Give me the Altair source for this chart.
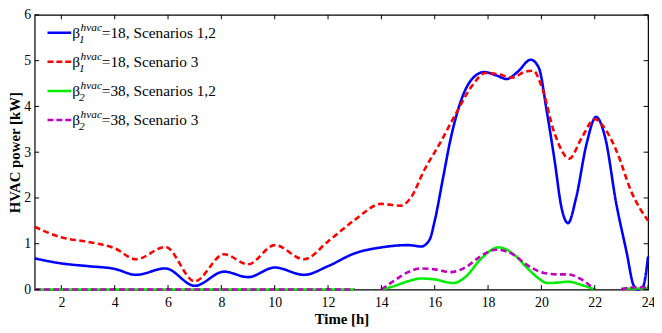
import altair as alt
import pandas as pd

# ---------------- data ----------------
blue_h = [1, 2, 3, 4, 4.8, 5.9, 7, 8.1, 9, 10, 11.1, 12, 13, 14, 15, 15.5, 15.8, 16, 16.3, 16.6,
          17, 17.4, 17.85, 18.3, 18.7, 19.1, 19.6, 19.9, 20.2, 20.5, 20.75, 21, 21.3, 21.7, 22.05,
          22.4, 22.8, 23.2, 23.45, 23.6, 23.8, 24]
blue_v = [0.68, 0.57, 0.51, 0.45, 0.32, 0.46, 0.08, 0.39, 0.27, 0.48, 0.32, 0.51, 0.79, 0.92, 0.97,
          0.94, 1.08, 1.5, 2.4, 3.3, 4.15, 4.6, 4.75, 4.68, 4.6, 4.75, 5.02, 4.85, 3.9, 2.8, 1.8,
          1.45, 2.0, 3.2, 3.77, 3.3, 1.9, 0.8, 0.1, 0.0, 0.05, 0.72]

red_h = [1, 2, 3, 4, 4.8, 5.9, 7, 8.1, 9, 10, 11.1, 12, 13, 14, 14.7, 15.1, 15.6, 16.2, 16.8, 17.4,
         17.9, 18.4, 18.9, 19.4, 19.7, 20.0, 20.5, 21.05, 21.5, 22.0, 22.4, 22.8, 23.4, 24]
red_v = [1.37, 1.14, 1.04, 0.9, 0.66, 0.93, 0.18, 0.77, 0.55, 0.97, 0.66, 1.05, 1.52, 1.87, 1.83,
         2.0, 2.6, 3.2, 3.85, 4.45, 4.73, 4.7, 4.63, 4.76, 4.78, 4.45, 3.4, 2.86, 3.3, 3.72, 3.5,
         3.05, 2.1, 1.5]

green_h1 = [1, 13]
green_v1 = [0, 0]
green_h2 = [14, 14.5, 15, 15.5, 16, 16.7, 17.2, 17.7, 18.4, 19, 19.5, 20, 20.2, 20.6, 21, 21.5, 22]
green_v2 = [0, 0.08, 0.18, 0.24, 0.22, 0.14, 0.3, 0.65, 0.92, 0.75, 0.45, 0.2, 0.14, 0.15, 0.17, 0.1, 0]
green_h3 = [23, 24]
green_v3 = [0.02, 0.02]

purple_h1 = [1, 13]
purple_v1 = [0, 0]
purple_h2 = [14, 14.5, 15, 15.5, 16, 16.6, 17.2, 17.7, 18.3, 18.9, 19.5, 20.1, 20.6, 21, 21.5, 22]
purple_v2 = [0, 0.2, 0.38, 0.46, 0.44, 0.38, 0.5, 0.72, 0.87, 0.78, 0.52, 0.36, 0.33, 0.33, 0.22, 0]
purple_h3 = [23, 23.3, 23.7, 24]
purple_v3 = [0, 0.04, 0.05, 0.04]

legend_subs = ["1", "1", "2", "2"]
legend_rest = ["=18, Scenarios 1,2", "=18, Scenario 3", "=38, Scenarios 1,2", "=38, Scenario 3"]
x_ticks = [2, 4, 6, 8, 10, 12, 14, 16, 18, 20, 22, 24]
y_ticks = [0, 1, 2, 3, 4, 5, 6]

# ---------------- layout / style ----------------
W, H = 621, 278
FONT = "Liberation Serif"
colors = ["#0000ff", "#ff0000", "#00ee00", "#bf00bf"]
dashes = [[1, 0], [6, 3.5], [1, 0], [6, 3.5]]


def frame(segs):
    rows = []
    for k, (hs, vs) in enumerate(segs):
        for h, v in zip(hs, vs):
            rows.append({"seg": k, "hour": h, "value": v})
    return pd.DataFrame(rows)


series = [
    frame([(blue_h, blue_v)]),
    frame([(red_h, red_v)]),
    frame([(green_h1, green_v1), (green_h2, green_v2), (green_h3, green_v3)]),
    frame([(purple_h1, purple_v1), (purple_h2, purple_v2), (purple_h3, purple_v3)]),
]

xscale = alt.Scale(domain=[1, 24], nice=False, zero=False)
yscale = alt.Scale(domain=[0, 6], nice=False)
xaxis = alt.Axis(values=x_ticks, title="Time [h]", grid=False, domain=False,
                 tickSize=0, labelPadding=6, titlePadding=2,
                 labelFontSize=14, titleFontSize=15, labelFont=FONT,
                 titleFont=FONT, titleFontWeight="bold", labelColor="black",
                 titleColor="black", labelFlush=False, format="d")
yaxis = alt.Axis(values=y_ticks, title="HVAC power [kW]", grid=False, domain=False,
                 tickSize=0, labelPadding=4, titlePadding=1,
                 labelFontSize=14, titleFontSize=15, labelFont=FONT,
                 titleFont=FONT, titleFontWeight="bold", labelColor="black",
                 titleColor="black", labelFlush=False, format="d")

layers = []
for i, df in enumerate(series):
    layers.append(
        alt.Chart(df).mark_line(interpolate="monotone", strokeWidth=2.6, color=colors[i],
                                strokeDash=dashes[i]).encode(
            x=alt.X("hour:Q", scale=xscale, axis=xaxis),
            y=alt.Y("value:Q", scale=yscale, axis=yaxis),
            detail="seg:N", order="hour:Q")
    )

# inward ticks (bottom/top/left/right)
xt = pd.DataFrame({"hour": x_ticks})
yt = pd.DataFrame({"value": y_ticks})
TL = 4.5
layers.append(alt.Chart(xt).mark_rule(color="black", strokeWidth=1).encode(
    x=alt.X("hour:Q", scale=xscale, axis=xaxis), y=alt.value(H), y2=alt.value(H - TL)))
layers.append(alt.Chart(xt).mark_rule(color="black", strokeWidth=1).encode(
    x=alt.X("hour:Q", scale=xscale, axis=xaxis), y=alt.value(0), y2=alt.value(TL)))
layers.append(alt.Chart(yt).mark_rule(color="black", strokeWidth=1).encode(
    y=alt.Y("value:Q", scale=yscale, axis=yaxis), x=alt.value(0), x2=alt.value(TL)))
layers.append(alt.Chart(yt).mark_rule(color="black", strokeWidth=1).encode(
    y=alt.Y("value:Q", scale=yscale, axis=yaxis), x=alt.value(W - TL), x2=alt.value(W)))

# manual legend with beta, superscript and subscript
one = pd.DataFrame({"a": [0]})
leg_y = [18, 47.5, 77, 106.5]
for i in range(4):
    ly = leg_y[i]
    layers.append(alt.Chart(one).mark_rule(color=colors[i], strokeWidth=2.6,
                                           strokeDash=[6, 3] if i % 2 else [1, 0]).encode(
        x=alt.value(13), x2=alt.value(37), y=alt.value(ly)))
    layers.append(alt.Chart(one).mark_text(text="β", font=FONT, fontSize=15.5, align="left",
                                           baseline="alphabetic", color="black").encode(
        x=alt.value(38), y=alt.value(ly + 5)))
    layers.append(alt.Chart(one).mark_text(text="hvac", font=FONT, fontSize=11.5, fontStyle="italic",
                                           align="left", baseline="alphabetic", color="black").encode(
        x=alt.value(46.5), y=alt.value(ly - 2)))
    layers.append(alt.Chart(one).mark_text(text=legend_subs[i], font=FONT, fontSize=11.5,
                                           fontStyle="italic", align="left", baseline="alphabetic",
                                           color="black").encode(
        x=alt.value(45), y=alt.value(ly + 10)))
    layers.append(alt.Chart(one).mark_text(text=legend_rest[i], font=FONT, fontSize=15.5,
                                           align="left", baseline="alphabetic", color="black").encode(
        x=alt.value(68), y=alt.value(ly + 5)))

chart = alt.layer(*layers).properties(
    width=W, height=H,
    background="white",
    autosize=alt.AutoSizeParams(type="none"),
    padding={"left": 27, "right": 6, "top": 5, "bottom": 36},
).configure_view(stroke="black", strokeWidth=1.2)

chart.save("out.html", embed_options={"renderer": "svg", "actions": False})
